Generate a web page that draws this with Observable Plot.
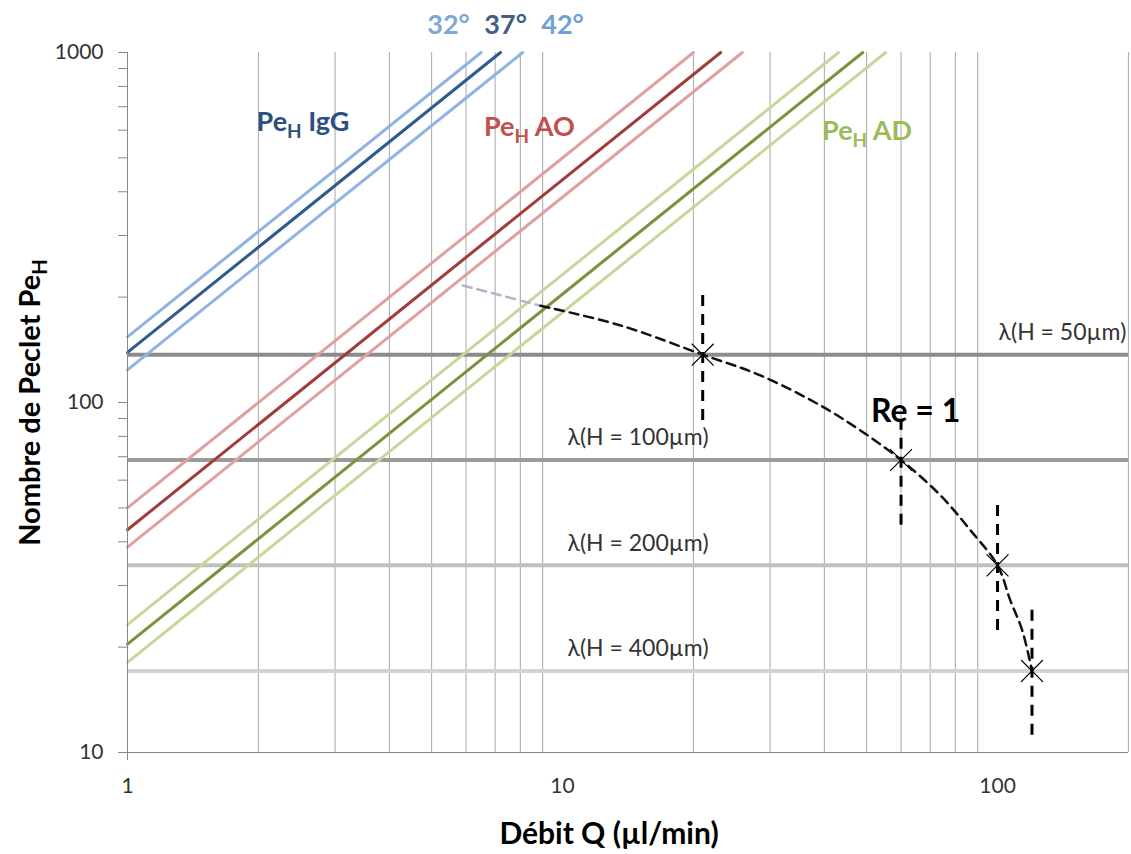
<!DOCTYPE html>
<html>
<head>
<meta charset="utf-8">
<script src="https://cdn.jsdelivr.net/npm/d3@7"></script>
<script src="https://cdn.jsdelivr.net/npm/@observablehq/plot@0.6"></script>
<style>
  html, body { margin: 0; padding: 0; background: #fff; }
  #chart svg { display: block; }
</style>
</head>
<body>
<div id="chart"></div>
<script>
// ---- tick values ----
const xTickValues = [1, 10, 100];
const yTickValues = [10, 100, 1000];
const yMinorTicks = [20, 30, 40, 50, 60, 70, 80, 90, 200, 300, 400, 500, 600, 700, 800, 900];
const xGridValues = [2, 3, 4, 5, 6, 7, 8, 9, 20, 30, 40, 50, 60, 70, 80, 90, 200];

// ---- Pe_H lines (read as two end points each: at Q = 1 and where Pe reaches 1000) ----
const lineIds    = ["IgG32", "IgG42", "IgG37", "AO32", "AO42", "AO37", "AD32", "AD42", "AD37"];
const lineQStart = [1, 1, 1, 1, 1, 1, 1, 1, 1];
const linePeStart = [154, 124, 139, 50, 38.6, 43.3, 23.2, 18.1, 20.4];
const lineQEnd   = [6.5, 8.1, 7.2, 20.0, 25.9, 23.1, 43.1, 55.3, 49.0];
const linePeEnd  = [1000, 1000, 1000, 1000, 1000, 1000, 1000, 1000, 1000];
const lineColors = ["#8fb4e3", "#8fb4e3", "#2f5a8e", "#e0a0a0", "#e0a0a0", "#a03c3c", "#c4d89b", "#c4d89b", "#77933c"];

// ---- lambda(H) horizontal levels ----
const lambdaLabels = ["λ(H = 50µm)", "λ(H = 100µm)", "λ(H = 200µm)", "λ(H = 400µm)"];
const lambdaValues = [137, 68.5, 34.25, 17.1];
const lambdaColors = ["#8c8c8c", "#9a9a9a", "#c0c0c0", "#d3d3d3"];
const lambdaLabelQ = [200, 10, 10, 10];

// ---- Re = 1 dashed curve ----
const curveQfaded  = [5.9, 8.9];
const curvePefaded = [216, 189];
const curveQ  = [8.9, 13.6, 21, 28.5, 39.2, 48.4, 60, 74, 86.7, 100, 107, 114, 120];
const curvePe = [189, 166, 137, 119.5, 98, 83.2, 68.5, 54.2, 43.1, 34.25, 27.2, 22.3, 17.1];

// ---- crossing points and vertical dashed bars ----
const crossQ  = [21, 60, 100, 120];
const crossPe = [137, 68.5, 34.25, 17.1];
const barLow  = [88.9, 44.6, 22.3, 11.2];
const barHigh = [209, 91.8, 51.5, 26.3];

// ---- labels ----
const seriesLabels = ["Pe|H| IgG", "Pe|H| AO", "Pe|H| AD"];
const seriesLabelQ = [1.98, 6.6, 39.5];
const seriesLabelPe = [630, 610, 595];
const seriesLabelColors = ["#2b4f7e", "#c0504d", "#9bbb59"];

const tempLabels = ["32°", "37°", "42°"];
const tempQ = [5.47, 7.4, 10];
const tempColors = ["#7ea6d8", "#3f5f86", "#6f9fd8"];

// ---- build tables ----
const lineData = lineIds.flatMap((id, i) => [
  {id, Q: lineQStart[i], Pe: linePeStart[i], c: lineColors[i]},
  {id, Q: lineQEnd[i], Pe: linePeEnd[i], c: lineColors[i]}
]);
const lambdaData = lambdaLabels.map((l, i) => ({label: l, Pe: lambdaValues[i], c: lambdaColors[i], Q: lambdaLabelQ[i]}));
const lambdaRight = lambdaData.filter(d => d.Q === 200);
const lambdaLeft = lambdaData.filter(d => d.Q !== 200);
const fadedData = curveQfaded.map((q, i) => ({Q: q, Pe: curvePefaded[i]}));
const curveData = curveQ.map((q, i) => ({Q: q, Pe: curvePe[i]}));
const crossData = crossQ.map((q, i) => ({Q: q, Pe: crossPe[i], lo: barLow[i], hi: barHigh[i]}));
const seriesData = seriesLabels.map((l, i) => ({label: l, Q: seriesLabelQ[i], Pe: seriesLabelPe[i], c: seriesLabelColors[i]}));
const tempData = tempLabels.map((l, i) => ({label: l, Q: tempQ[i], Pe: 1000, c: tempColors[i]}));

const font = "Lato, 'Open Sans', 'DejaVu Sans', sans-serif";

const chart = Plot.plot({
  width: 1131,
  height: 854,
  marginTop: 52,
  marginBottom: 102,
  marginLeft: 127,
  marginRight: 3,
  style: {fontFamily: font, fontSize: "20px", background: "#fff"},
  x: {type: "log", domain: [1, 200]},
  y: {type: "log", domain: [10, 1000]},
  marks: [
    Plot.ruleX(xGridValues, {stroke: "#b4b4b4", strokeWidth: 1.2}),
    Plot.ruleY(lambdaData, {y: "Pe", stroke: "c", strokeWidth: 4}),
    Plot.line(lineData, {x: "Q", y: "Pe", z: "id", stroke: "c", strokeWidth: 3}),
    Plot.line(fadedData, {x: "Q", y: "Pe", stroke: "#b4b4c8", strokeWidth: 2.5, strokeDasharray: "9,6", curve: "catmull-rom"}),
    Plot.line(curveData, {x: "Q", y: "Pe", stroke: "#111", strokeWidth: 2.5, strokeDasharray: "9,6", curve: "catmull-rom"}),
    Plot.ruleX(crossData, {x: "Q", y1: "lo", y2: "hi", stroke: "#000", strokeWidth: 3, strokeDasharray: "11,8"}),
    Plot.dot(crossData, {x: "Q", y: "Pe", symbol: "times", r: 10, stroke: "#000", strokeWidth: 1.2}),
    Plot.ruleX([1], {stroke: "#888"}),
    Plot.ruleY([10], {stroke: "#888"}),
    Plot.axisY({ticks: yTickValues, tickSize: 9, tickPadding: 15, tickFormat: d => String(d), fontSize: 21, stroke: "#888", fill: "#333", label: null}),
    Plot.axisY({ticks: yMinorTicks, tickSize: 9, tickFormat: () => "", stroke: "#888", label: null}),
    Plot.axisX({ticks: xTickValues, tickSize: 0, tickPadding: 26, tickFormat: d => String(d), fontSize: 21, fill: "#333", label: null}),
    Plot.axisX({ticks: [1], tickSize: 8, tickFormat: () => "", stroke: "#888", label: null}),
    Plot.text(lambdaRight, {x: "Q", y: "Pe", text: "label", dy: -22, dx: -2, textAnchor: "end", lineAnchor: "middle", fill: "#333", fontSize: 23}),
    Plot.text(lambdaLeft, {x: "Q", y: "Pe", text: "label", dy: -22, dx: 5, textAnchor: "start", lineAnchor: "middle", fill: "#333", fontSize: 23}),
    Plot.text(seriesData, {x: "Q", y: "Pe", text: "label", fill: "c", textAnchor: "start", lineAnchor: "middle", fontSize: 27, fontWeight: "bold"}),
    Plot.text(tempData, {x: "Q", y: "Pe", text: "label", fill: "c", textAnchor: "middle", lineAnchor: "bottom", dy: -19, fontSize: 27, fontWeight: "bold"}),
    Plot.text(["Re = 1"], {x: [64.8], y: [94.2], fill: "#000", fontSize: 32, fontWeight: "bold", lineAnchor: "middle"}),
    Plot.text(["Nombre de Peclet Pe|H"], {frameAnchor: "left", rotate: -90, dx: -97, textAnchor: "middle", fontSize: 29, fontWeight: "bold", fill: "#000", lineAnchor: "middle"}),
    Plot.text(["Débit Q (µl/min)"], {frameAnchor: "bottom", dy: 82, dx: -19, textAnchor: "middle", fontSize: 30, fontWeight: "bold", fill: "#000", lineAnchor: "middle"})
  ]
});

// subscripts: text segments between | ... | become subscript
d3.select(chart).selectAll("text").each(function () {
  const t = this.textContent;
  if (!t.includes("|")) return;
  const sel = d3.select(this);
  sel.text(null);
  t.split("|").forEach((p, i) => {
    if (p === "") return;
    const ts = sel.append("tspan").text(p);
    if (i % 2 === 1) ts.attr("font-size", "70%").attr("dy", "7px");
    else if (i > 0) ts.attr("dy", "-7px");
  });
});

document.getElementById("chart").appendChild(chart);
</script>
</body>
</html>
